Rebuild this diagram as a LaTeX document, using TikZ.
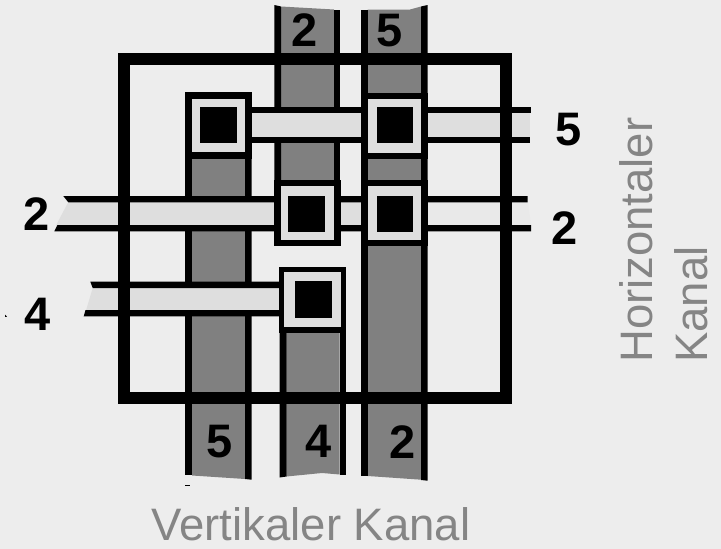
\documentclass[tikz,border=0pt]{standalone}
\usepackage{fontspec}
\setmainfont{Liberation Sans}
\definecolor{bgcol}{HTML}{EDEDED}
\definecolor{chanv}{HTML}{808080}
\definecolor{chanh}{HTML}{DEDEDE}
\definecolor{chanhb}{HTML}{E9E9E9}
\definecolor{txtcol}{HTML}{858585}
\tikzset{
  pad/.style={draw=black,fill=chanh,line width=6.7pt,minimum size=60pt,inner sep=0pt},
  padcore/.style={fill=black,minimum width=36.6pt,minimum height=36.4pt,inner sep=0pt},
  netnum/.style={font=\bfseries\fontsize{47}{52}\selectfont,inner sep=0pt},
  kanal/.style={text=txtcol,font=\fontsize{45.5}{50}\selectfont,inner sep=0pt}
}
\begin{document}
\begin{tikzpicture}[x=1pt,y=-1pt]
        \useasboundingbox (0,0) rectangle (721,549);
        \fill[bgcol] (0,0) rectangle (721,549);
        % vertikale Kanaele
        \fill[chanv] (192,150) -- (245,150) -- (245,479) -- (192,475.5) -- cycle;
        \fill (185.3,150) rectangle (192,475);
        \fill (245,150) -- (251.7,150) -- (251.7,479.7) -- (245,479) -- cycle;
        \fill (185.3,485) rectangle (190,485.8);
        \fill[chanv] (281,6.5) -- (334,9.5) -- (334,190) -- (281,190) -- cycle;
        \fill (274.3,5) -- (281,6.5) -- (281,190) -- (274.3,190) -- cycle;
        \fill (334,9.5) rectangle (340,190);
        \fill[chanv] (286.5,330) -- (339.5,330) -- (339.5,474.5) -- (322,473) -- (286.5,476.5) -- cycle;
        \fill (279.7,330) -- (286.5,330) -- (286.5,476.5) -- (279.7,477.5) -- cycle;
        \fill (339.5,330) rectangle (345.7,474.7);
        \fill[chanv] (367.7,9.5) -- (410,9.5) -- (421,6.5) -- (421,479.7) -- (367.7,476) -- cycle;
        \fill (361,9.5) rectangle (367.7,476);
        \fill (421,6.5) -- (427.7,5) -- (427.7,480.7) -- (421,480) -- cycle;
        % horizontale Kanaele
        \fill[chanh] (245,113) rectangle (530,137);
        \fill (245,107) rectangle (531,113.3);
        \fill (245,136.7) rectangle (529.6,143);
        \fill[chanh] (68.3,202) -- (370,202) -- (370,225.5) -- (56,225.5) -- cycle;
        \fill[chanhb] (427,202) -- (528,202) -- (531,225.5) -- (427,225.5) -- cycle;
        \fill (63.3,196) -- (527.7,196) -- (527.7,202.3) -- (68.3,202.3) -- cycle;
        \fill (57.5,225) -- (531,225) -- (531,231.3) -- (54.3,231.3) -- cycle;
        \fill[chanh] (92.7,288) -- (290,288) -- (290,310.5) -- (86,310.5) -- cycle;
        \fill (90.3,281.7) -- (290,281.7) -- (290,288) -- (92.7,288) -- cycle;
        \fill (85.5,310) -- (290,310) -- (290,316.3) -- (83.7,316.3) -- cycle;
        \fill (5,314.5) -- (7,316.8) -- (5,316.8) -- cycle;
        % Rahmen
        \draw[line width=12pt,miter limit=10] (124,58.5) rectangle (506,397.5);
        % Pads
        \foreach \name/\x/\y/\cx/\cy in {a/218.3/125.8/218.5/125.2,b/307.2/213/306.3/214,
            c/394.3/126/395/125,d/394.3/213/395/214} {
          \node[pad] (pad\name) at (\x,\y) {};
          \node[padcore] (core\name) at (\cx,\cy) {};
        }
        \fill (279.3,267.3) rectangle (345.7,333.3);
        \fill[chanh] (284,272.3) rectangle (340.7,326.7);
        \node[padcore] (coree) at (313.3,299.4) {};
        % Nummern
        \foreach \name/\x/\y/\txt in {ta/305/30.5/2,tb/390/31/5,ra/569/130/5,rb/565/228/2,
            la/37/214/2,lb/37.7/314/4,ba/220/441.7/5,bb/318.7/441.7/4,bc/403/441.7/2} {
          \node[netnum] (num\name) at (\x,\y) {\txt};
        }
        % Beschriftung
        \node[kanal,anchor=base west] (vkanal) at (151.5,540) {Vertikaler Kanal};
        \node[kanal,anchor=base west,rotate=90] (hkanala) at (652.7,363) {Horizontaler};
        \node[kanal,anchor=base west,rotate=90] (hkanalb) at (707.7,363) {Kanal};
\end{tikzpicture}
\end{document}
